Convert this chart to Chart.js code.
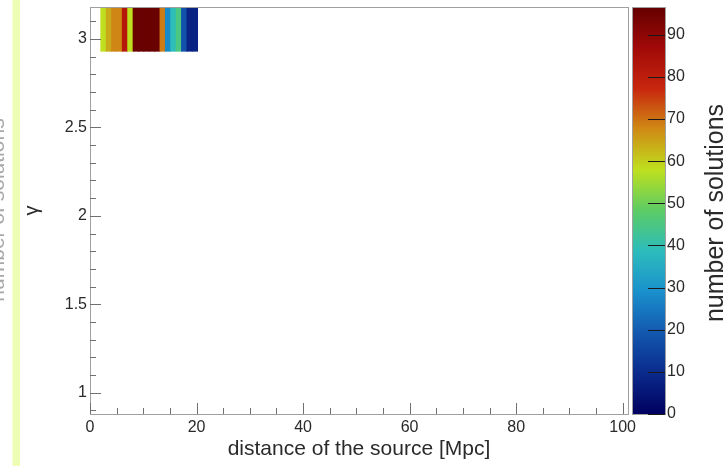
<!DOCTYPE html>
<html>
<head>
<meta charset="utf-8">
<script src="https://cdn.jsdelivr.net/npm/chart.js@4.4.1/dist/chart.umd.min.js"></script>
<style>
html,body{margin:0;padding:0;background:#fff;}
#c{display:block;}
</style>
</head>
<body>
<canvas id="c" width="727" height="466"></canvas>
<script>
// ---- data ----
const binWidth = 1.01;                       // x bin width (100 bins over 0..101)
const distanceBinLow = [2.02, 3.03, 4.04, 5.05, 6.06, 7.07, 8.08, 9.09, 10.10,
                        11.11, 12.12, 13.13, 14.14, 15.15, 16.16, 17.17, 18.18, 19.19];
const solutions = [58, 64, 68, 68, 82, 58, 96, 96, 96, 96, 96, 69, 28, 39, 45, 18, 8, 8];
const gammaBin = [2.93, 3.18];               // the single filled gamma bin
const xRange = [0, 101];
const yRange = [0.88, 3.18];
const zRange = [0, 96.6];
const xTickLabels = [0, 20, 40, 60, 80, 100];
const yTickLabels = [1, 1.5, 2, 2.5, 3];
const zTickLabels = [0, 10, 20, 30, 40, 50, 60, 70, 80, 90];
const xMinorStep = 5, yMinorStep = 0.1;

// palette (fraction of z range -> colour)
const paletteStops = [
  [0.00, '#00005e'], [0.10, '#0a2a8c'], [0.20, '#1358b0'], [0.30, '#1a90cc'],
  [0.40, '#2cbcbc'], [0.50, '#5ccc64'], [0.60, '#bfe01e'], [0.70, '#cf8a14'],
  [0.80, '#c8260e'], [0.90, '#a00a08'], [1.00, '#640000']
];

function hex2rgb(h){return [parseInt(h.substr(1,2),16),parseInt(h.substr(3,2),16),parseInt(h.substr(5,2),16)];}
function colorFor(v){
  let f = (v - zRange[0]) / (zRange[1] - zRange[0]);
  f = Math.max(0, Math.min(1, f));
  for (let i = 1; i < paletteStops.length; i++){
    if (f <= paletteStops[i][0]){
      const [f0,c0] = paletteStops[i-1], [f1,c1] = paletteStops[i];
      const t = (f - f0) / (f1 - f0);
      const a = hex2rgb(c0), b = hex2rgb(c1);
      return 'rgb(' + a.map((x,k)=>Math.round(x + (b[k]-x)*t)).join(',') + ')';
    }
  }
  return paletteStops[paletteStops.length-1][1];
}

const FONT = '"Liberation Sans", Arial, Helvetica, sans-serif';
const TEXT = '#2a2a2a';
const FRAME = '#a0a0a0';

const decorPlugin = {
  id: 'decor',
  beforeDraw(chart){
    const ctx = chart.ctx;
    ctx.save();
    ctx.fillStyle = '#ffffff';
    ctx.fillRect(0,0,chart.width,chart.height);
    // pale band on the left edge
    ctx.fillStyle = '#eefcb4';
    ctx.fillRect(12.5, 0, 7.5, chart.height);
    // clipped title at the very left edge
    ctx.translate(4, 210);
    ctx.rotate(-Math.PI/2);
    ctx.fillStyle = '#a8a8a8';
    ctx.font = '21px ' + FONT;
    ctx.textAlign = 'center';
    ctx.textBaseline = 'alphabetic';
    ctx.fillText('number of solutions', 0, 0);
    ctx.restore();
  },
  afterDraw(chart){
    const ctx = chart.ctx;
    const {left, right, top, bottom} = chart.chartArea;
    const xs = chart.scales.x, ys = chart.scales.y, zs = chart.scales.z;
    ctx.save();
    // frame
    ctx.strokeStyle = FRAME;
    ctx.lineWidth = 1;
    ctx.strokeRect(Math.round(left)+0.5, Math.round(top)+0.5, Math.round(right-left), Math.round(bottom-top));
    // ticks inside the frame
    ctx.strokeStyle = '#707070';
    ctx.beginPath();
    for (let v = xRange[0]; v <= xRange[1] + 1e-9; v += xMinorStep){
      const px = Math.round(xs.getPixelForValue(v)) + 0.5;
      const major = xTickLabels.includes(Math.round(v));
      const len = major ? 11 : 6;
      ctx.moveTo(px, bottom); ctx.lineTo(px, bottom - len);
    }
    for (let k = Math.ceil(yRange[0]/yMinorStep); k*yMinorStep <= yRange[1] + 1e-9; k++){
      const v = k*yMinorStep;
      const py = Math.round(ys.getPixelForValue(v)) + 0.5;
      const major = yTickLabels.some(t => Math.abs(t - v) < 1e-6);
      const len = major ? 11 : 6;
      ctx.moveTo(left, py); ctx.lineTo(left + len, py);
    }
    ctx.stroke();

    // colour bar
    const cbL = zs.left + 4, cbR = zs.left + 37;
    const cbT = zs.getPixelForValue(zRange[1]), cbB = zs.getPixelForValue(zRange[0]);
    const g = ctx.createLinearGradient(0, cbB, 0, cbT);
    paletteStops.forEach(([f,c]) => g.addColorStop(f, c));
    ctx.fillStyle = g;
    ctx.fillRect(cbL, cbT, cbR - cbL, cbB - cbT);
    ctx.strokeStyle = FRAME;
    ctx.strokeRect(Math.round(cbL)+0.5, Math.round(cbT)+0.5, Math.round(cbR-cbL), Math.round(cbB-cbT));
    ctx.strokeStyle = '#1a1a1a';
    ctx.beginPath();
    zTickLabels.forEach(v => {
      const py = Math.round(zs.getPixelForValue(v)) + 0.5;
      ctx.moveTo(cbR, py); ctx.lineTo(cbR - 17, py);
    });
    ctx.stroke();
    // colour bar title
    ctx.translate(716, 213);
    ctx.rotate(-Math.PI/2);
    ctx.fillStyle = TEXT;
    ctx.font = '25px ' + FONT;
    ctx.textAlign = 'center';
    ctx.textBaseline = 'middle';
    ctx.fillText('number of solutions', 0, 0);
    ctx.restore();
  }
};

const setTicks = (vals) => (scale) => { scale.ticks = vals.map(v => ({value: v})); };
const noVPad = (w) => (s) => { s.width = w; s.paddingTop = 0; s.paddingBottom = 0; };

new Chart(document.getElementById('c'), {
  type: 'bar',
  data: {
    datasets: [{
      data: distanceBinLow.map(lo => ({x: lo + binWidth/2, y: gammaBin})),
      backgroundColor: solutions.map(colorFor),
      borderWidth: 0,
      barPercentage: 1,
      categoryPercentage: 1,
      grouped: false,
      inflateAmount: 0.4,
      yAxisID: 'y'
    }]
  },
  options: {
    responsive: false,
    animation: false,
    devicePixelRatio: 1,
    layout: {padding: {top: 7, left: 0, right: 0, bottom: 0}},
    plugins: {legend: {display: false}, tooltip: {enabled: false}},
    scales: {
      x: {
        type: 'linear', min: xRange[0], max: xRange[1], offset: false,
        afterBuildTicks: setTicks(xTickLabels),
        afterFit: s => { s.height = 52; },
        grid: {display: false, drawTicks: false},
        border: {display: false},
        ticks: {color: TEXT, font: {size: 16, family: FONT}, padding: 4, maxRotation: 0, autoSkip: false,
                callback: v => String(v)},
        title: {display: true, text: 'distance of the source [Mpc]', color: TEXT,
                font: {size: 21, family: FONT}, padding: {top: 0, bottom: 4}}
      },
      y: {
        type: 'linear', position: 'left', min: yRange[0], max: yRange[1],
        afterBuildTicks: setTicks(yTickLabels),
        afterFit: noVPad(90),
        grid: {display: false, drawTicks: false},
        border: {display: false},
        ticks: {color: TEXT, font: {size: 16, family: FONT}, padding: 3, autoSkip: false,
                callback: v => String(v)},
        title: {display: true, text: 'γ', color: TEXT, font: {size: 20, family: FONT},
                padding: {top: 20, bottom: 0}}
      },
      z: {
        type: 'linear', position: 'right', min: zRange[0], max: zRange[1],
        afterBuildTicks: setTicks(zTickLabels),
        afterFit: noVPad(99),
        grid: {display: false, drawTicks: true, tickLength: 36},
        border: {display: false},
        ticks: {color: TEXT, font: {size: 16, family: FONT}, padding: 3, autoSkip: false,
                callback: v => String(v)}
      }
    }
  },
  plugins: [decorPlugin]
});
</script>
</body>
</html>
